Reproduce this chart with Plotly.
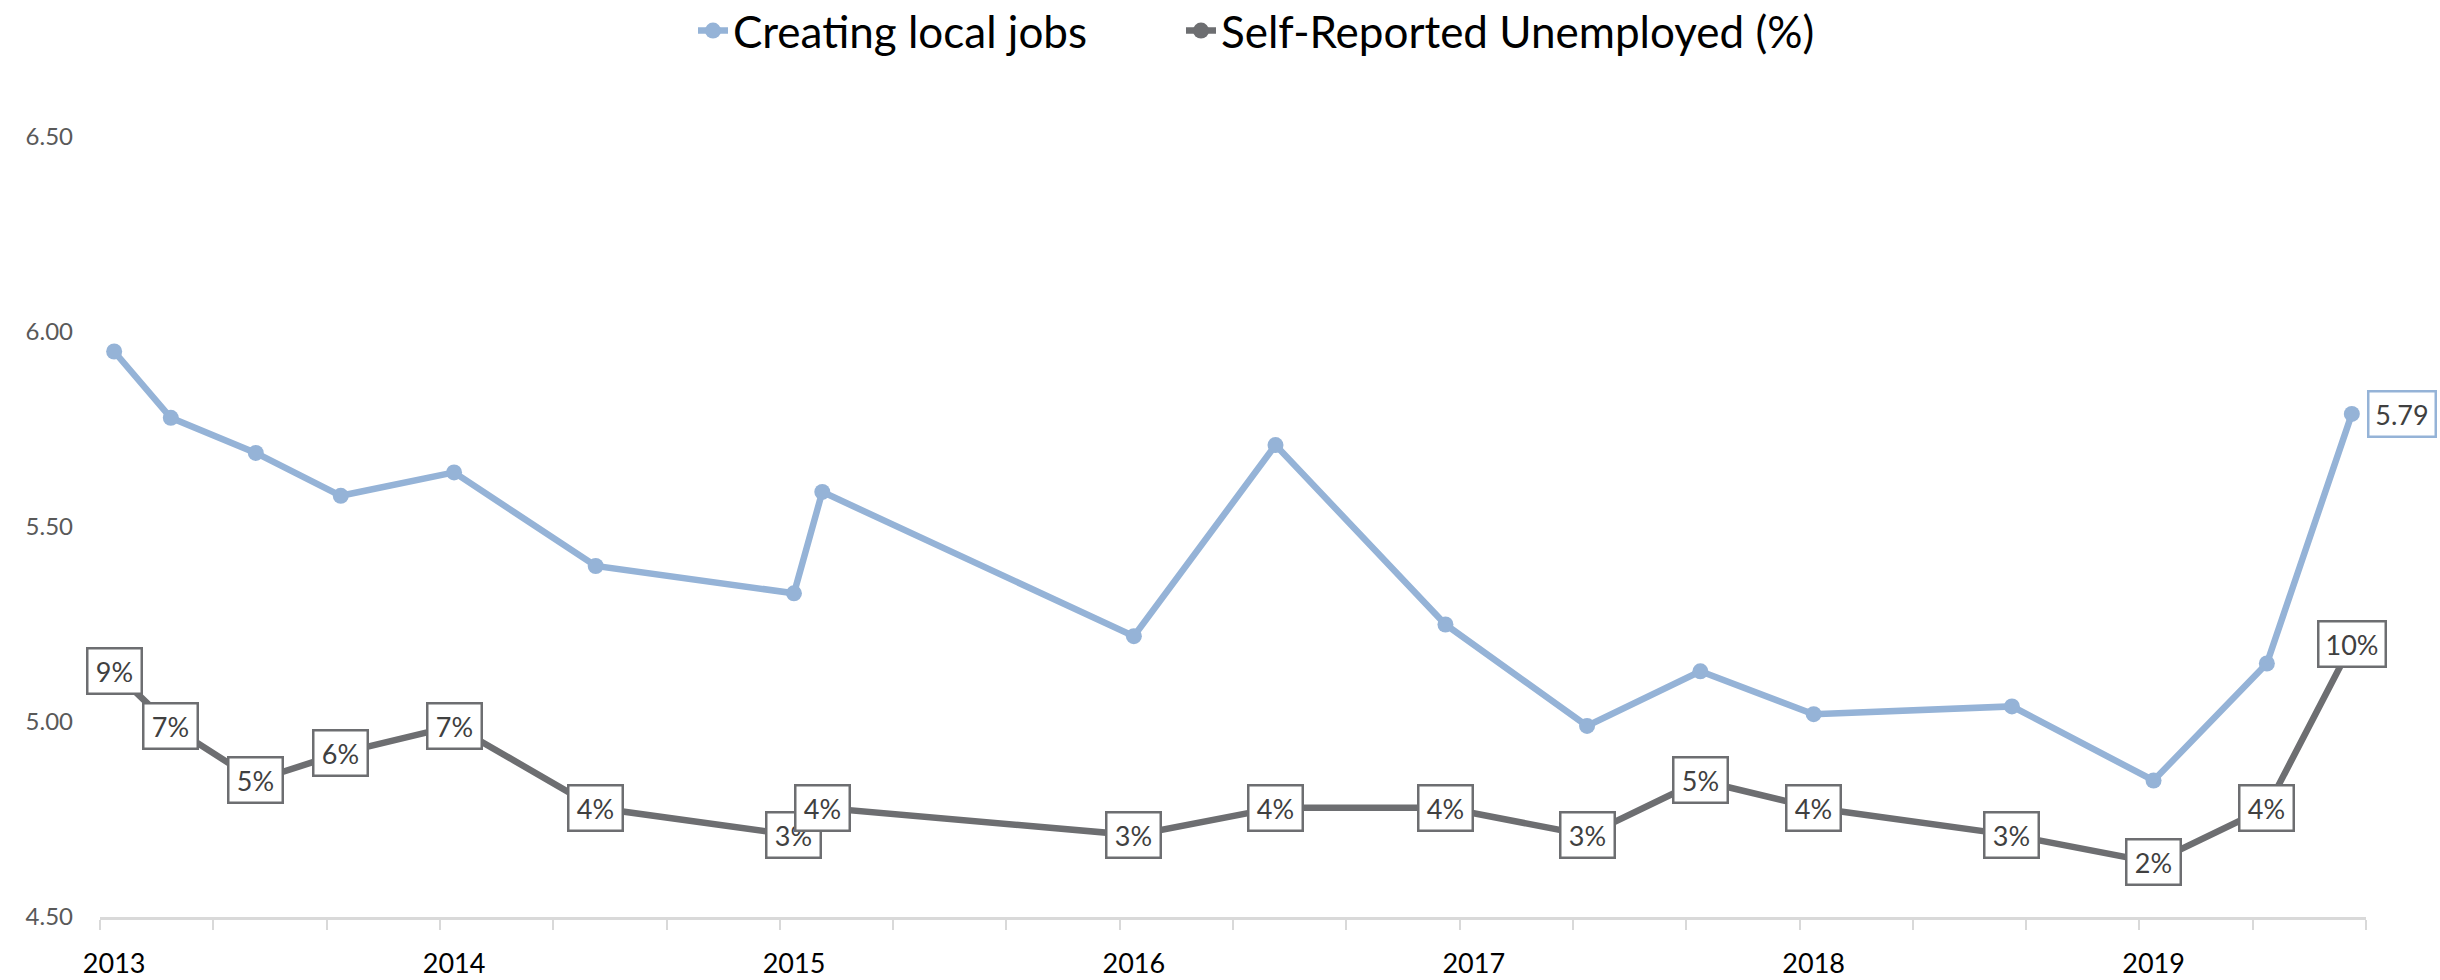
import plotly.graph_objects as go

# ---- data ----
dates = ["2013-01", "2013-03", "2013-06", "2013-09", "2014-01", "2014-06",
         "2015-01", "2015-02", "2016-01", "2016-06", "2016-12", "2017-05",
         "2017-09", "2018-01", "2018-08", "2019-01", "2019-05", "2019-08"]
local_jobs = [5.95, 5.78, 5.69, 5.58, 5.64, 5.40, 5.33, 5.59, 5.22, 5.71,
              5.25, 4.99, 5.13, 5.02, 5.04, 4.85, 5.15, 5.79]
unemployed = [0.09, 0.07, 0.05, 0.06, 0.07, 0.04, 0.03, 0.04, 0.03, 0.04,
              0.04, 0.03, 0.05, 0.04, 0.03, 0.02, 0.04, 0.10]
years = ["2013", "2014", "2015", "2016", "2017", "2018", "2019"]
y_ticks = [4.5, 5.0, 5.5, 6.0, 6.5]

BLUE = "#95b3d7"
GRAY = "#6d6e71"
FONT = "Lato, 'Open Sans', sans-serif"

# month index from Jan 2013
def month_index(d):
    y, m = d.split("-")
    return (int(y) - int(years[0])) * 12 + int(m) - 1

x = [month_index(d) for d in dates]
n_months = month_index(dates[-1]) + 1

fig = go.Figure()
fig.add_trace(go.Scatter(
    x=x, y=local_jobs, name="Creating local jobs", mode="lines+markers",
    line=dict(color=BLUE, width=6.5), marker=dict(color=BLUE, size=16),
    yaxis="y", legend="legend"))
fig.add_trace(go.Scatter(
    x=x, y=unemployed, name="Self-Reported Unemployed (%)", mode="lines+markers",
    line=dict(color=GRAY, width=6.5), marker=dict(color=GRAY, size=16),
    yaxis="y2", legend="legend2"))

annotations = []
for xi, v in zip(x, unemployed):
    txt = f"{round(v * 100)}%"
    annotations.append(dict(
        x=xi, y=v, xref="x", yref="y2", text=txt, showarrow=False,
        font=dict(family=FONT, size=27, color="#404040"),
        bgcolor="white", bordercolor=GRAY, borderwidth=2.5, borderpad=4,
        width=13 * len(txt) + 18, height=35, xanchor="center", yanchor="middle"))

last_txt = f"{local_jobs[-1]:.2f}"
annotations.append(dict(
    x=x[-1], y=local_jobs[-1], xref="x", yref="y", text=last_txt, showarrow=False,
    font=dict(family=FONT, size=27, color="#404040"),
    bgcolor="white", bordercolor=BLUE, borderwidth=2.5, borderpad=4,
    width=57, height=35, xanchor="left", yanchor="middle", xshift=15))

legend_font = dict(family=FONT, size=44, color="black")
fig.update_layout(
    width=2440, height=980,
    margin=dict(l=100, r=74, t=137, b=63),
    paper_bgcolor="white", plot_bgcolor="white",
    showlegend=True,
    legend=dict(orientation="h", xref="container", x=693 / 2440, xanchor="left",
                yref="container", y=1 - 31 / 980, yanchor="middle", font=legend_font,
                bgcolor="rgba(0,0,0,0)"),
    legend2=dict(orientation="h", xref="container", x=1181 / 2440, xanchor="left",
                 yref="container", y=1 - 31 / 980, yanchor="middle", font=legend_font,
                 bgcolor="rgba(0,0,0,0)"),
    xaxis=dict(
        range=[-0.5, n_months - 0.5], automargin=False,
        tickmode="array", tickvals=[12 * i for i in range(len(years))],
        ticktext=years, ticks="", showgrid=False, zeroline=False,
        showline=True, linecolor="#d9d9d9", linewidth=2.5,
        tickfont=dict(family=FONT, size=27, color="black"),
        ticklabelstandoff=21,
        minor=dict(tickmode="array",
                   tickvals=[i - 0.5 for i in range(0, n_months + 1, 4)],
                   ticks="outside", ticklen=10, tickcolor="#d9d9d9",
                   tickwidth=2, showgrid=False),
    ),
    yaxis=dict(
        range=[4.5, 6.5], automargin=False, tickmode="array", tickvals=y_ticks,
        tickformat=".2f", showgrid=False, zeroline=False, showline=False,
        ticks="", tickfont=dict(family=FONT, size=24, color="#595959"),
        ticklabelstandoff=26,
    ),
    yaxis2=dict(range=[0, 0.2857], overlaying="y", side="right",
                visible=False, showgrid=False, zeroline=False),
    annotations=annotations,
)

fig.write_html("out.html", config={"displayModeBar": False},
               post_script="document.body.style.margin='0';")
